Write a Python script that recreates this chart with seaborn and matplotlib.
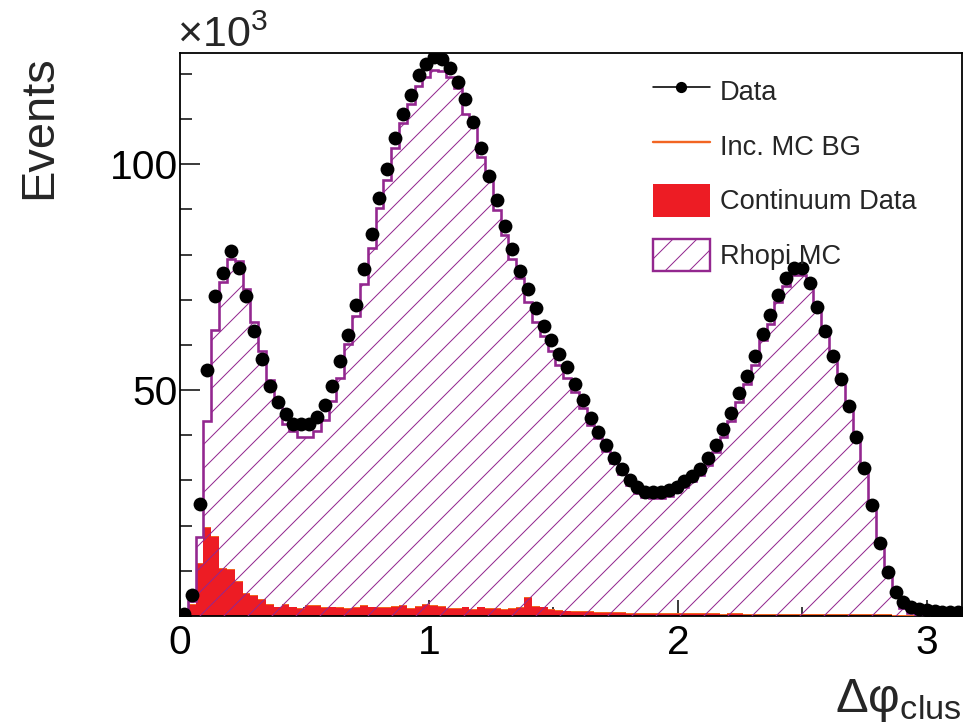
import numpy as np
import pandas as pd
import matplotlib
matplotlib.use("Agg")
import matplotlib.pyplot as plt
import seaborn as sns
from matplotlib.lines import Line2D
from matplotlib.patches import Patch
from matplotlib.ticker import MultipleLocator

# ---- histogram contents (units of 10^3 events), 100 bins over [0, pi] ----
data_k = [
    0.5, 4.7, 24.7, 54.4, 70.9, 76.0, 80.7, 77.0, 70.9, 63.1,
    56.9, 51.0, 47.4, 44.8, 42.6, 42.4, 42.6, 44.0, 46.8, 51.0,
    56.4, 62.3, 68.9, 76.7, 84.6, 92.5, 99.0, 105.8, 111.2, 115.2,
    119.7, 122.2, 123.7, 123.3, 121.3, 118.1, 114.4, 109.4, 103.6, 97.4,
    92.0, 86.4, 81.3, 76.3, 72.3, 68.1, 64.1, 61.1, 57.9, 55.1,
    51.4, 47.7, 43.8, 40.8, 37.8, 35.0, 32.6, 30.2, 28.6, 27.5,
    27.4, 27.4, 27.8, 28.6, 29.8, 31.0, 32.6, 35.0, 37.8, 41.4,
    45.0, 49.4, 53.2, 57.5, 62.5, 66.6, 71.1, 74.7, 77.1, 77.1,
    73.8, 68.3, 63.1, 57.5, 52.4, 46.5, 39.6, 32.8, 24.6, 16.1,
    9.7, 5.3, 3.1, 2.1, 1.5, 1.3, 1.0, 0.9, 0.9, 0.9,
]

continuum_k = [
    0.3, 2.5, 11.5, 19.5, 17.5, 10.5, 10.2, 7.6, 4.8, 4.4,
    3.6, 2.4, 1.9, 2.4, 1.9, 1.5, 2.2, 2.2, 1.7, 1.9,
    1.8, 1.6, 1.7, 2.2, 1.9, 1.8, 1.7, 2.0, 2.3, 1.6,
    2.1, 2.4, 2.3, 2.0, 1.5, 1.6, 1.9, 1.4, 1.9, 1.5,
    1.6, 1.4, 1.5, 1.7, 4.0, 2.0, 1.9, 1.3, 1.2, 1.0,
    0.9, 0.8, 0.8, 0.7, 0.7, 0.6, 0.6, 0.5, 0.5, 0.5,
    0.4, 0.5, 0.5, 0.4, 0.4, 0.4, 0.5, 0.4, 0.4, 0.3,
    0.4, 0.4, 0.3, 0.3, 0.3, 0.3, 0.3, 0.3, 0.3, 0.3,
    0.3, 0.3, 0.3, 0.3, 0.3, 0.3, 0.2, 0.2, 0.2, 0.2,
    0.2, 0.1, 0.1, 0.1, 0.1, 0.1, 0.1, 0.0, 0.0, 0.0,
]

inc_mc_bg_k = [0.0, 0.1] + [0.2] * 90 + [0.1, 0.1, 0.0, 0.0, 0.0, 0.0, 0.0, 0.0]

rhopi_mc_k = [
    0.3, 0.8, 5.8, 23.5, 45.5, 63.2, 68.5, 70.7, 67.3, 60.5,
    54.9, 49.6, 45.5, 40.0, 38.8, 37.9, 37.2, 38.6, 41.5, 45.5,
    50.6, 58.5, 64.4, 71.1, 79.4, 88.4, 94.5, 101.4, 106.7, 111.6,
    115.0, 116.7, 118.4, 118.4, 117.6, 115.1, 109.1, 106.8, 99.4, 95.1,
    88.1, 82.7, 77.4, 72.8, 65.3, 62.9, 59.8, 57.2, 54.1, 51.4,
    48.4, 45.0, 41.3, 38.6, 35.6, 33.0, 30.6, 28.3, 26.6, 25.6,
    25.5, 25.4, 25.9, 26.9, 28.0, 29.2, 30.5, 32.8, 35.6, 39.1,
    42.6, 46.8, 50.8, 55.0, 60.5, 64.1, 69.0, 72.5, 75.0, 75.0,
    73.3, 68.5, 62.6, 56.6, 52.2, 46.5, 39.8, 32.6, 23.8, 15.3,
    8.9, 4.6, 1.5, 0.4, 0.2, 0.1, 0.0, 0.1, 0.0, 0.0,
]

x_min, x_max = 0.0, np.pi
n_bins = len(data_k)

legend_labels = ["Data", "Inc. MC BG", "Continuum Data", "Rhopi MC"]

# ---- style ----
RED = "#ed1c24"
ORANGE = "#f26522"
PURPLE = "#93278f"

sns.set_style("ticks")
plt.rcParams["font.family"] = ["Liberation Sans", "DejaVu Sans"]
plt.rcParams["mathtext.fontset"] = "custom"
plt.rcParams["mathtext.rm"] = "Liberation Sans"
plt.rcParams["mathtext.it"] = "Liberation Sans:italic"
plt.rcParams["hatch.linewidth"] = 0.5
plt.rcParams["hatch.color"] = PURPLE

DPI = 144
W, H = 965, 723
fig = plt.figure(figsize=(W / DPI, H / DPI), dpi=DPI, facecolor="white")
ax = fig.add_axes([180 / W, 1 - 616 / H, (962 - 180) / W, (616 - 53) / H])

edges = np.linspace(x_min, x_max, n_bins + 1)
centers = 0.5 * (edges[:-1] + edges[1:])

cont = np.asarray(continuum_k)
inc = np.asarray(inc_mc_bg_k)
rho = np.asarray(rhopi_mc_k)
stack_low = cont + inc
stack_top = stack_low + rho

hist_df = pd.DataFrame({"dphi": centers, "continuum": cont, "data": data_k})

# continuum data (solid red, bottom of the stack)
sns.histplot(data=hist_df, x="dphi", weights="continuum", bins=n_bins,
             binrange=(x_min, x_max), element="step", fill=True, color=RED,
             alpha=1.0, linewidth=0, ax=ax, zorder=2)
# inclusive MC background layer
ax.stairs(stack_low, edges, baseline=cont, fill=True, color=ORANGE,
          linewidth=0, zorder=3)
# rho-pi MC hatched on top of the stack
ax.stairs(stack_top, edges, baseline=0, fill=True, facecolor="none",
          edgecolor=PURPLE, hatch="//", linewidth=0, zorder=4)
ax.stairs(stack_top, edges, baseline=0, fill=False, edgecolor=PURPLE,
          linewidth=1.3, zorder=5)

# data points
sns.scatterplot(data=hist_df, x="dphi", y="data", ax=ax, color="black", s=48,
                linewidth=0, zorder=6, legend=False)

ax.set_xlim(x_min, x_max)
ax.set_ylim(0, 124.6)
ax.set_xlabel("")
ax.set_ylabel("")

ax.xaxis.set_major_locator(MultipleLocator(1))
ax.xaxis.set_minor_locator(MultipleLocator(0.5))
ax.yaxis.set_major_locator(MultipleLocator(50))
ax.yaxis.set_minor_locator(MultipleLocator(10))
ax.tick_params(axis="both", which="both", direction="in", top=False,
               right=False, width=0.75, colors="black")
ax.tick_params(axis="y", which="major", length=10, pad=1, labelsize=20.4)
ax.tick_params(axis="y", which="minor", length=6)
ax.tick_params(axis="x", which="major", length=8, pad=4, labelsize=20.4)
ax.tick_params(axis="x", which="minor", length=4.5)
ax.set_yticks([50, 100])
for sp in ax.spines.values():
    sp.set_visible(True)
    sp.set_linewidth(0.9)
    sp.set_color("black")

# axis titles
fig.text(39.5 / W, 1 - 127 / H, "Events", rotation=90, ha="center",
         va="center", fontsize=23.5)
fig.text(962 / W, 1 - 712 / H, r"$\mathrm{Δφ}_{\mathrm{clus}}$", ha="right",
         va="baseline", fontsize=24.5)
fig.text(177 / W, 1 - 47 / H, r"$\times10^{3}$", ha="left", va="baseline",
         fontsize=21.5)

# legend
handles = [
    Line2D([0], [0], color="black", lw=0.8, marker="o", markersize=4.6),
    Line2D([0], [0], color=ORANGE, lw=1.2),
    Patch(facecolor=RED, edgecolor=RED, lw=0),
    Patch(facecolor="white", edgecolor=PURPLE, hatch="//", lw=1.2),
]
fig.legend(handles, legend_labels, loc="upper left",
           bbox_to_anchor=(653 / W, 1 - 74.5 / H),
           bbox_transform=fig.transFigure, frameon=False, fontsize=13.6,
           handlelength=2.09, handleheight=1.47, labelspacing=0.81,
           handletextpad=0.37, borderpad=0, borderaxespad=0)

fig.savefig("out.png", dpi=DPI, facecolor="white")
